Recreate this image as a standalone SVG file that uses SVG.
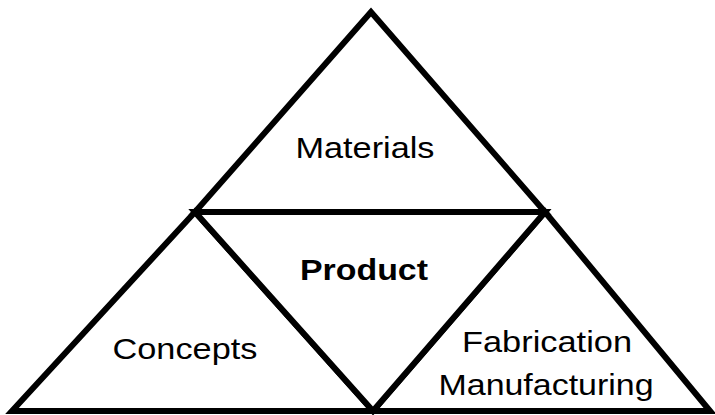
<svg xmlns="http://www.w3.org/2000/svg" width="715" height="415" viewBox="0 0 715 415">
<style>
.t{fill:#fff;stroke:#000;stroke-width:6;stroke-linejoin:miter}
.l{font-family:"Liberation Sans",Arial,sans-serif;font-size:30px;fill:#000;text-anchor:middle}
.b{font-weight:bold}
</style>
<rect width="715" height="415" fill="#fff"/>
<g id="materials"><polygon class="t" points="371,12 195,212 545,212"/><text class="l" x="365" y="158" textLength="139" lengthAdjust="spacingAndGlyphs">Materials</text></g>
<g id="concepts"><polygon class="t" points="195,212 12,411 373,411"/><text class="l" x="185" y="359" textLength="145" lengthAdjust="spacingAndGlyphs">Concepts</text></g>
<g id="fabrication"><polygon class="t" points="545,212 373,411 710,411"/><text class="l" x="547" y="352" textLength="170" lengthAdjust="spacingAndGlyphs">Fabrication</text><text class="l" x="546" y="395" textLength="215" lengthAdjust="spacingAndGlyphs">Manufacturing</text></g>
<g id="product"><polygon class="t" points="195,212 545,212 373,411"/><text class="l b" x="364" y="280" textLength="128" lengthAdjust="spacingAndGlyphs">Product</text></g>
<g id="connectors"></g>
</svg>
